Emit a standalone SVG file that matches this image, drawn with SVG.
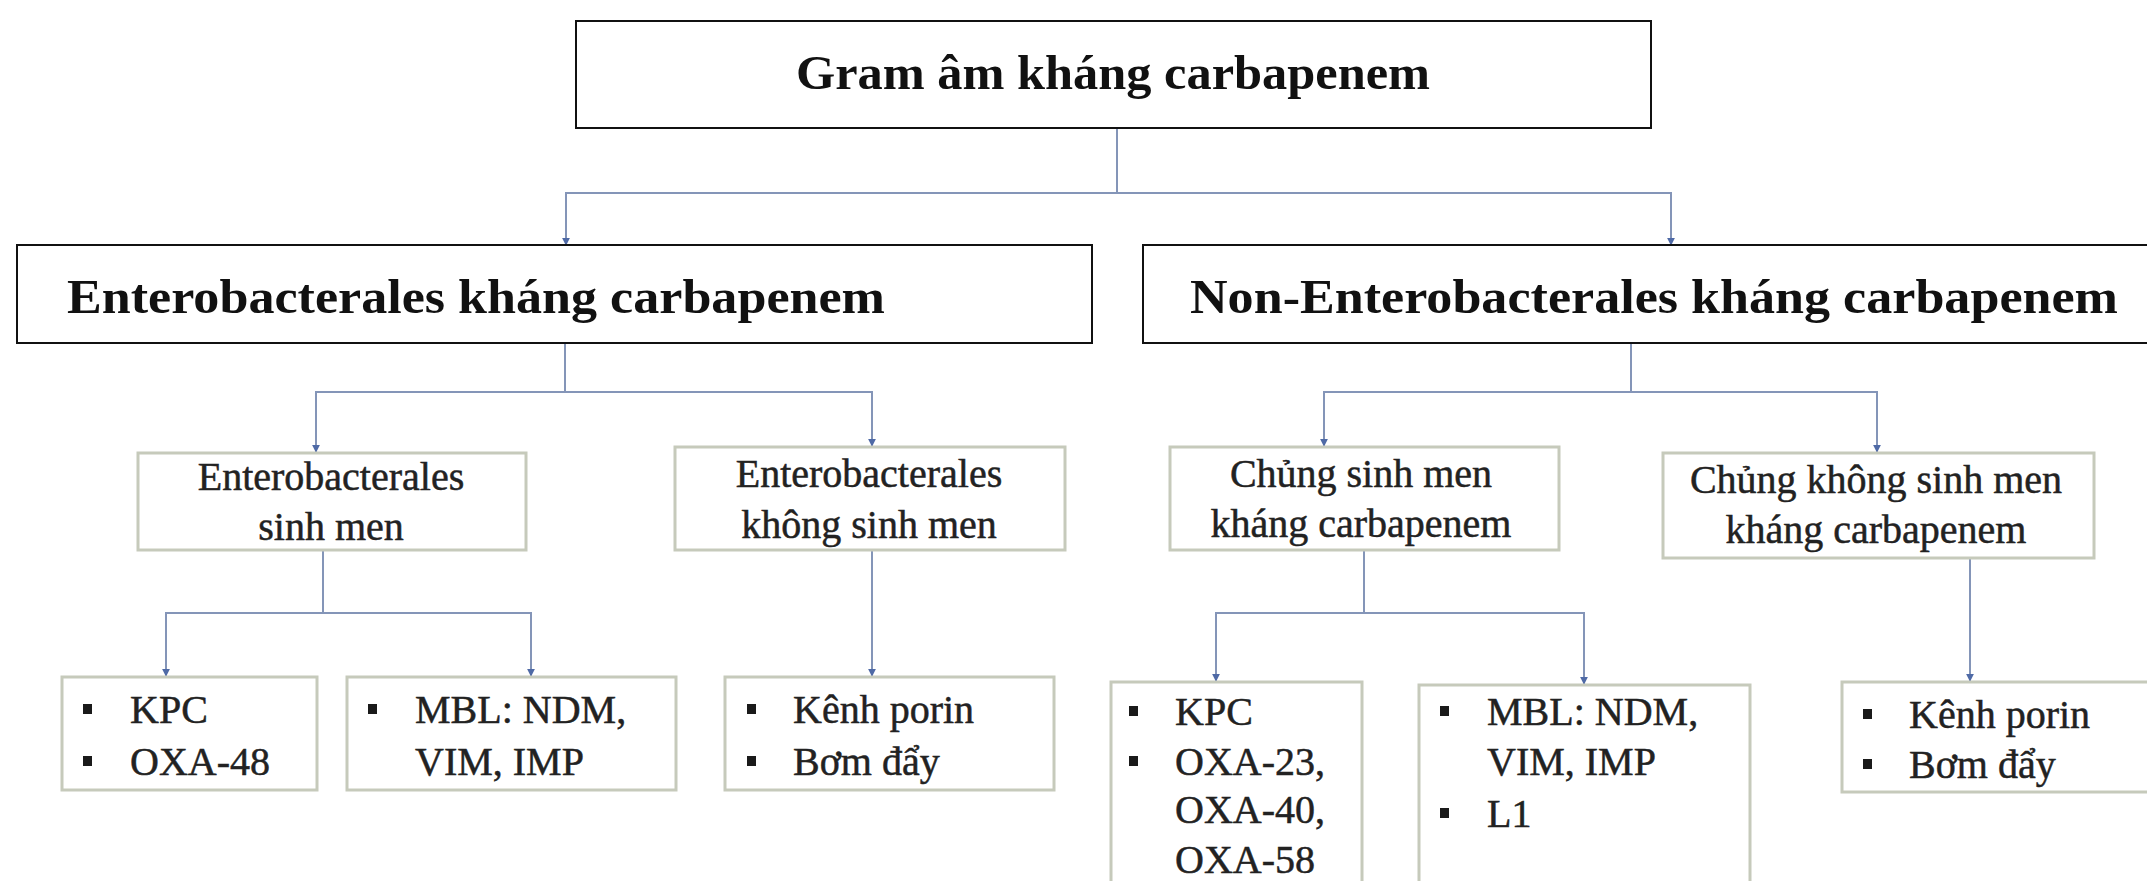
<svg xmlns="http://www.w3.org/2000/svg" width="2147" height="881" viewBox="0 0 2147 881">
<style>
.main{fill:#fff;stroke:#111;stroke-width:2}
.sub{fill:#fff;stroke:#c6cabb;stroke-width:3}
.bold{font-family:"Liberation Serif","DejaVu Serif",serif;font-weight:bold;font-size:48px;fill:#111}
.reg{font-family:"Liberation Serif","DejaVu Serif",serif;font-size:40px;fill:#222;stroke:#222;stroke-width:0.5}
.bul{fill:#1a1a1a}
.conn{fill:none;stroke:#8495b8;stroke-width:2}
</style>
<defs>
<marker id="arr" viewBox="0 0 10 10" refX="9" refY="5" markerWidth="4" markerHeight="4" orient="auto">
<path d="M0,0 L10,5 L0,10 z" fill="#4f6aa6"/>
</marker>
</defs>
<rect width="2147" height="881" fill="#fff"/>
<g id="connectors">
<path class="conn" d="M1117,128 V193 H566 V245" marker-end="url(#arr)"/>
<path class="conn" d="M1117,193 H1671 V245" marker-end="url(#arr)"/>
<path class="conn" d="M565,343 V392 H316 V452" marker-end="url(#arr)"/>
<path class="conn" d="M565,392 H872 V446" marker-end="url(#arr)"/>
<path class="conn" d="M1631,343 V392 H1324 V446" marker-end="url(#arr)"/>
<path class="conn" d="M1631,392 H1877 V452" marker-end="url(#arr)"/>
<path class="conn" d="M323,550 V613 H166 V676" marker-end="url(#arr)"/>
<path class="conn" d="M323,613 H531 V676" marker-end="url(#arr)"/>
<path class="conn" d="M872,550 V676" marker-end="url(#arr)"/>
<path class="conn" d="M1364,550 V613 H1216 V681" marker-end="url(#arr)"/>
<path class="conn" d="M1364,613 H1584 V684" marker-end="url(#arr)"/>
<path class="conn" d="M1970,558 V681" marker-end="url(#arr)"/>
</g>
<g id="root">
<rect class="main" x="576" y="21" width="1075" height="107"/>
<text class="bold" x="1113" y="89" text-anchor="middle" textLength="634" lengthAdjust="spacingAndGlyphs">Gram âm kháng carbapenem</text>
</g>
<g id="entero">
<rect class="main" x="17" y="245" width="1075" height="98"/>
<text class="bold" x="67" y="313" textLength="818" lengthAdjust="spacingAndGlyphs">Enterobacterales kháng carbapenem</text>
</g>
<g id="nonentero">
<rect class="main" x="1143" y="245" width="1020" height="98"/>
<text class="bold" x="1190" y="313" textLength="928" lengthAdjust="spacingAndGlyphs">Non-Enterobacterales kháng carbapenem</text>
</g>
<g id="eb-sinh">
<rect class="sub" x="138" y="453" width="388" height="97"/>
<text class="reg" x="331" y="490" text-anchor="middle">Enterobacterales</text>
<text class="reg" x="331" y="540" text-anchor="middle">sinh men</text>
</g>
<g id="eb-khong">
<rect class="sub" x="675" y="447" width="390" height="103"/>
<text class="reg" x="869" y="487" text-anchor="middle">Enterobacterales</text>
<text class="reg" x="869" y="538" text-anchor="middle">không sinh men</text>
</g>
<g id="ne-sinh">
<rect class="sub" x="1170" y="447" width="389" height="103"/>
<text class="reg" x="1361" y="487" text-anchor="middle">Chủng sinh men</text>
<text class="reg" x="1361" y="537" text-anchor="middle">kháng carbapenem</text>
</g>
<g id="ne-khong">
<rect class="sub" x="1663" y="453" width="431" height="105"/>
<text class="reg" x="1876" y="493" text-anchor="middle">Chủng không sinh men</text>
<text class="reg" x="1876" y="543" text-anchor="middle">kháng carbapenem</text>
</g>
<g id="eb-kpc">
<rect class="sub" x="62" y="677" width="255" height="113"/>
<rect class="bul" x="83" y="704" width="9" height="10"/>
<text class="reg" x="130" y="723">KPC</text>
<rect class="bul" x="83" y="756" width="9" height="10"/>
<text class="reg" x="130" y="775">OXA-48</text>
</g>
<g id="eb-mbl">
<rect class="sub" x="347" y="677" width="329" height="113"/>
<rect class="bul" x="368" y="704" width="9" height="10"/>
<text class="reg" x="415" y="723">MBL: NDM,</text>
<text class="reg" x="415" y="775">VIM, IMP</text>
</g>
<g id="eb-porin">
<rect class="sub" x="725" y="677" width="329" height="113"/>
<rect class="bul" x="747" y="704" width="9" height="10"/>
<text class="reg" x="793" y="723">Kênh porin</text>
<rect class="bul" x="747" y="756" width="9" height="10"/>
<text class="reg" x="793" y="775">Bơm đẩy</text>
</g>
<g id="ne-kpc">
<rect class="sub" x="1111" y="682" width="251" height="210"/>
<rect class="bul" x="1129" y="706" width="9" height="10"/>
<text class="reg" x="1175" y="725">KPC</text>
<rect class="bul" x="1129" y="756" width="9" height="10"/>
<text class="reg" x="1175" y="775">OXA-23,</text>
<text class="reg" x="1175" y="823">OXA-40,</text>
<text class="reg" x="1175" y="873">OXA-58</text>
</g>
<g id="ne-mbl">
<rect class="sub" x="1419" y="685" width="331" height="207"/>
<rect class="bul" x="1440" y="706" width="9" height="10"/>
<text class="reg" x="1487" y="725">MBL: NDM,</text>
<text class="reg" x="1487" y="775">VIM, IMP</text>
<rect class="bul" x="1440" y="808" width="9" height="10"/>
<text class="reg" x="1487" y="827">L1</text>
</g>
<g id="ne-porin">
<rect class="sub" x="1842" y="682" width="320" height="110"/>
<rect class="bul" x="1863" y="709" width="9" height="10"/>
<text class="reg" x="1909" y="728">Kênh porin</text>
<rect class="bul" x="1863" y="759" width="9" height="10"/>
<text class="reg" x="1909" y="778">Bơm đẩy</text>
</g>
</svg>
